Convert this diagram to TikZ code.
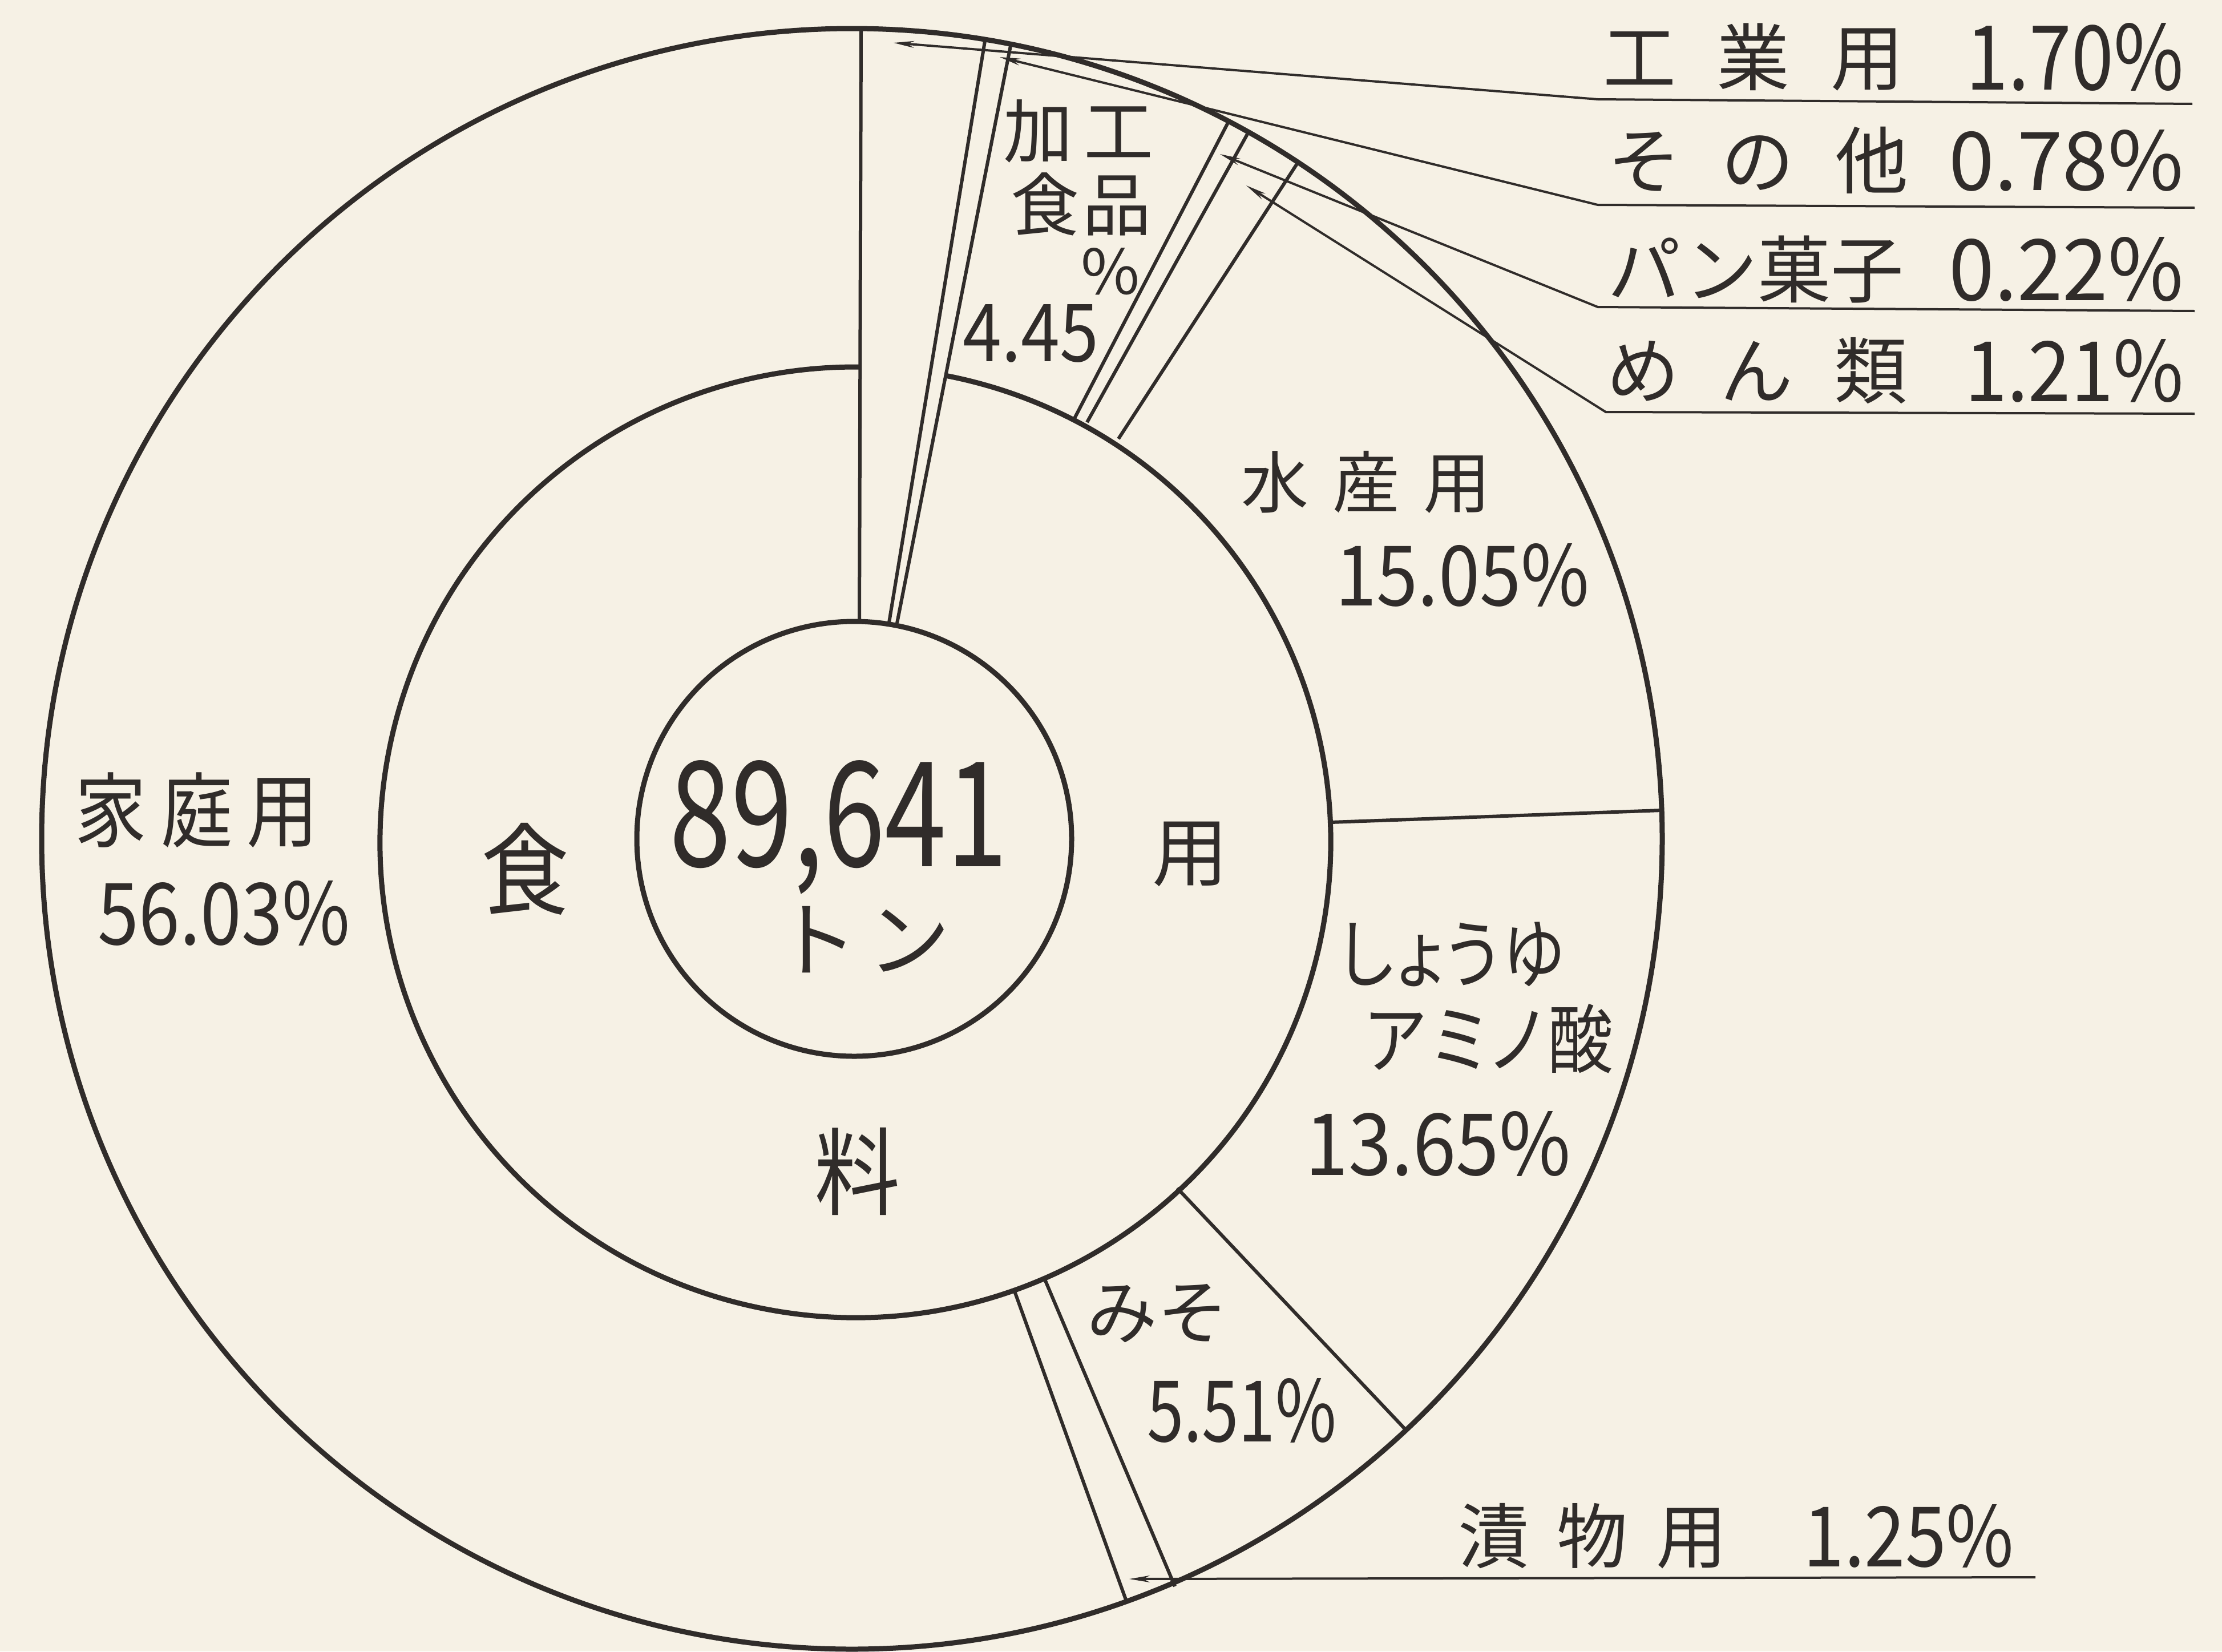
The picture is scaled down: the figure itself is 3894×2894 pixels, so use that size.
\documentclass[tikz,border=0pt]{standalone}
\usepackage{fontspec}
\usepackage{graphicx}
\setmainfont{Noto Sans CJK JP}
\usetikzlibrary{arrows.meta}
\definecolor{paper}{RGB}{246,241,229}
\definecolor{ink}{RGB}{48,44,42}
\newcommand\fs[1]{\fontsize{#1pt}{#1pt}\selectfont}
\newcommand\pf{\addfontfeature{RawFeature=+palt}}
\newcommand\nm[3]{\resizebox{#1pt}{#2pt}{\fs{100}#3}}
\begin{document}
\begin{tikzpicture}[x=1pt,y=-1pt,
  ring/.style={draw=ink,line width=9pt},
  divider/.style={draw=ink,line width=6pt},
  leader/.style={draw=ink,line width=4pt,{Stealth[length=36pt,width=12pt]}-},
  lbl/.style={inner sep=0pt,text=ink,anchor=center}]
\fill[paper] (0,0) rectangle (3894,2894);
\useasboundingbox (0,0) rectangle (3894,2894);
% circles
\coordinate (co) at (1493,1470);
\coordinate (cm) at (1499,1476);
\coordinate (ci) at (1497,1470);
\draw[ring] (co) circle[radius=1420];
\draw[ring] (ci) circle[radius=381];
\draw[ring] (cm) ++(-79.1:833) arc[start angle=-79.1,end angle=270.5,radius=833];
% dividers
\draw[divider] (1509,50) -- (1506,1091);
\draw[divider] (1558,1091) -- (1726,72);
\draw[divider] (1572,1092) -- (1771,80);
\draw[divider] (1882,735) -- (2152,215);
\draw[divider] (1905,740) -- (2186,235);
\draw[divider] (1960,769) -- (2273,287);
\draw[divider] (2332,1441) -- (2912,1420);
\draw[divider] (2063,2082) -- (2462,2504);
\draw[divider] (1831,2242) -- (2059,2780);
\draw[divider] (1777,2260) -- (1974,2806);
% leader coordinates
\coordinate (t1) at (1566,75);   \coordinate (k1) at (2800,174); \coordinate (e1) at (3842,182);
\coordinate (t2) at (1752,100);  \coordinate (k2) at (2800,359); \coordinate (e2) at (3846,364);
\coordinate (t3) at (2138,270);  \coordinate (k3) at (2800,538); \coordinate (e3) at (3846,545);
\coordinate (t4) at (2184,325);  \coordinate (k4) at (2814,722); \coordinate (e4) at (3846,725);
\coordinate (t5) at (1979,2767); \coordinate (e5) at (3567,2764);
\draw[leader] (t1) -- (k1) -- (e1);
\draw[leader] (t2) -- (k2) -- (e2);
\draw[leader] (t3) -- (k3) -- (e3);
\draw[leader] (t4) -- (k4) -- (e4);
\draw[leader] (t5) -- (e5);
% right labels
\node[lbl] (l1c) at (3073,100) {\fs{128}工\hspace{0.56em}業\hspace{0.56em}用};
\node[lbl] (l1n) at (3636,100) {\nm{381}{117}{1.70\%}};
\node[lbl] (l2c) at (3081,281) {\fs{128}そ\hspace{0.56em}の\hspace{0.56em}他};
\node[lbl] (l2n) at (3621,281) {\nm{411}{106}{0.78\%}};
\node[lbl] (l3c) at (3077,472) {\fs{128}パン菓子};
\node[lbl] (l3n) at (3621,472) {\nm{411}{111}{0.22\%}};
\node[lbl] (l4c) at (3079,650) {\fs{128}め\hspace{0.56em}ん\hspace{0.56em}類};
\node[lbl] (l4n) at (3635,650) {\nm{384}{109}{1.21\%}};
\node[lbl] (l5c) at (2791,2692) {\fs{124}漬\hspace{0.4em}物\hspace{0.4em}用};
\node[lbl] (l5n) at (3345,2692) {\nm{369}{109}{1.25\%}};
% in-chart labels
\node[lbl] (ka) at (345,1420) {\scalebox{0.95}[1.08]{\fs{132}家\hspace{0.2em}庭\hspace{0.2em}用}};
\node[lbl] (kn) at (393,1600) {\nm{442}{112}{56.03\%}};
\node[lbl] (sa) at (2394,845) {\fs{118}水\hspace{0.35em}産\hspace{0.35em}用};
\node[lbl] (sn) at (2563,1008) {\nm{445}{109}{15.05\%}};
\node[lbl] (sy1) at (2545,1672) {\scalebox{0.85}[1]{\fs{132}\pf し\hspace{0.06em}ょ\hspace{0.06em}う\hspace{0.06em}ゆ}};
\node[lbl] (sy2) at (2610,1820) {\scalebox{0.86}[1]{\fs{132}\pf ア\hspace{0.1em}ミ\hspace{0.08em}ノ\hspace{0.1em}酸}};
\node[lbl] (syn) at (2520,2004) {\nm{465}{112}{13.65\%}};
\node[lbl] (mi) at (2028,2302) {\fs{124}みそ};
\node[lbl] (min) at (2176,2472) {\nm{332}{111}{5.51\%}};
\node[lbl] (kk1) at (1890,230) {\fs{122}加\hspace{0.15em}工};
\node[lbl] (kk2) at (1894,358) {\fs{120}食\hspace{0.05em}品};
\node[lbl] (kkp) at (1946,476) {\nm{103}{81}{\%}};
\node[lbl] (kkn) at (1806,584) {\nm{238}{100}{4.45}};
\node[lbl] (f1) at (920,1523) {\scalebox{0.88}[1]{\fs{175}食}};
\node[lbl] (f2) at (2086,1497) {\fs{133}用};
\node[lbl] (f3) at (1503,2053) {\scalebox{0.9}[1]{\fs{167}料}};
\node[lbl,anchor=base] (tot) at (1470,1518) {\nm{593}{186}{89,641}};
\node[lbl] (ton) at (1512,1647) {\fs{145}ト\hspace{0.12em}ン};
\end{tikzpicture}
\end{document}
